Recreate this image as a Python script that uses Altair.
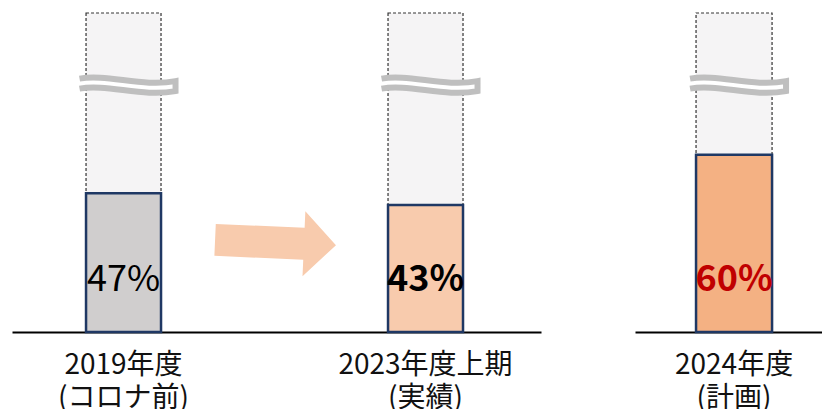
import altair as alt
import pandas as pd

# ---- data ----
CATEGORIES = ["2019年度\n(コロナ前)", "2023年度上期\n(実績)", "2024年度\n(計画)"]
VALUES = [47, 43, 60]
LABELS = ["47%", "43%", "60%"]

# ---- styles / layout constants ----
FILL_COLORS = ["#D0CECE", "#F8CBAD", "#F4B183"]
TEXT_COLORS = ["#000000", "#000000", "#C00000"]
BOLD_CATS = [CATEGORIES[1], CATEGORIES[2]]
YMAX = 108          # top of the (broken) background column
BREAK_LEVEL = 82.4  # where the wavy break mark sits
LABEL_LEVEL = 14    # baseline of the percentage labels
ARROW_LEVEL = 30.3  # centre of the arrow
FONT = "Noto Sans CJK JP"
H = 319

WAVE = ("M -0.96 -0.2 C -0.4 -0.3 0.3 -0.02 0.96 -0.15 "
        "L 0.96 0.05 C 0.3 0.18 -0.4 -0.1 -0.96 0")
ARROW = ("M -1 -0.264 L 0.47 -0.264 L 0.47 -0.537 L 1 0 "
         "L 0.47 0.537 L 0.47 0.264 L -1 0.264 Z")

df = pd.DataFrame({"cat": CATEGORIES, "value": VALUES, "label": LABELS})

yscale = alt.Scale(domain=[0, YMAX], nice=False, zero=True)
color_scale = alt.Scale(domain=CATEGORIES, range=FILL_COLORS)
text_scale = alt.Scale(domain=CATEGORIES, range=TEXT_COLORS)


def panel(data, width, xscale, arrow=False, step=0):
    x = alt.X("cat:N", sort=None, scale=xscale,
              axis=alt.Axis(title=None, labelAngle=0, ticks=False,
                            domainColor="black", domainWidth=2,
                            labelFont=FONT, labelFontSize=28, labelColor="#111111",
                            labelPadding=19, labelLineHeight=33, labelLimit=400,
                            labelOverlap=False,
                            labelExpr="split(datum.label, '\\n')"))
    base = alt.Chart(data).encode(x=x)
    bg = base.mark_bar(fill="#F5F4F5", stroke="#333333", strokeDash=[3, 2],
                       strokeWidth=1.2).encode(y=alt.datum(YMAX, scale=yscale, axis=None))
    bars = base.mark_bar(stroke="#1F3864", strokeWidth=2.5).encode(
        y=alt.Y("value:Q", scale=yscale, axis=None),
        color=alt.Color("cat:N", scale=color_scale, legend=None))
    wave = base.mark_point(shape=WAVE, size=10000, filled=True, fill="white",
                           stroke="#BFBFBF", strokeWidth=6, opacity=1,
                           xOffset=4).encode(y=alt.datum(BREAK_LEVEL, scale=yscale))
    txt_norm = base.transform_filter(
        alt.FieldOneOfPredicate(field="cat", oneOf=[c for c in CATEGORIES if c not in BOLD_CATS])
    ).mark_text(font=FONT, fontSize=36, baseline="alphabetic", align="center").encode(
        y=alt.datum(LABEL_LEVEL, scale=yscale), text="label:N",
        color=alt.Color("cat:N", scale=text_scale, legend=None))
    txt_bold = base.transform_filter(
        alt.FieldOneOfPredicate(field="cat", oneOf=BOLD_CATS)
    ).mark_text(font=FONT, fontSize=36, fontWeight="bold", baseline="alphabetic",
                align="center").encode(
        y=alt.datum(LABEL_LEVEL, scale=yscale), text="label:N",
        color=alt.Color("cat:N", scale=text_scale, legend=None))
    layers = [bg, bars, wave, txt_norm, txt_bold]
    if arrow:
        arr = base.transform_filter(
            alt.FieldEqualPredicate(field="cat", equal=CATEGORIES[0])
        ).mark_point(shape=ARROW, size=14641, filled=True, color="#F8CBAD",
                     opacity=1, angle=2.5, strokeWidth=0,
                     xOffset=step / 2 + 1).encode(y=alt.datum(ARROW_LEVEL, scale=yscale))
        layers.append(arr)
    return alt.layer(*layers).resolve_scale(color="independent").properties(
        width=width, height=H)


STEP = 302
left = panel(df.iloc[:2], 529,
             alt.Scale(paddingInner=0.7517, paddingOuter=0.2517, align=0.487),
             arrow=True, step=STEP)
right = panel(df.iloc[2:], 187,
              alt.Scale(paddingInner=0, paddingOuter=0.73, align=0.55))

chart = alt.hconcat(left, right, spacing=94).properties(
    padding={"left": 12, "top": 12, "right": 0, "bottom": 0}
).configure_view(stroke=None)

chart.save("out.html", embed_options={"renderer": "svg", "actions": False})
